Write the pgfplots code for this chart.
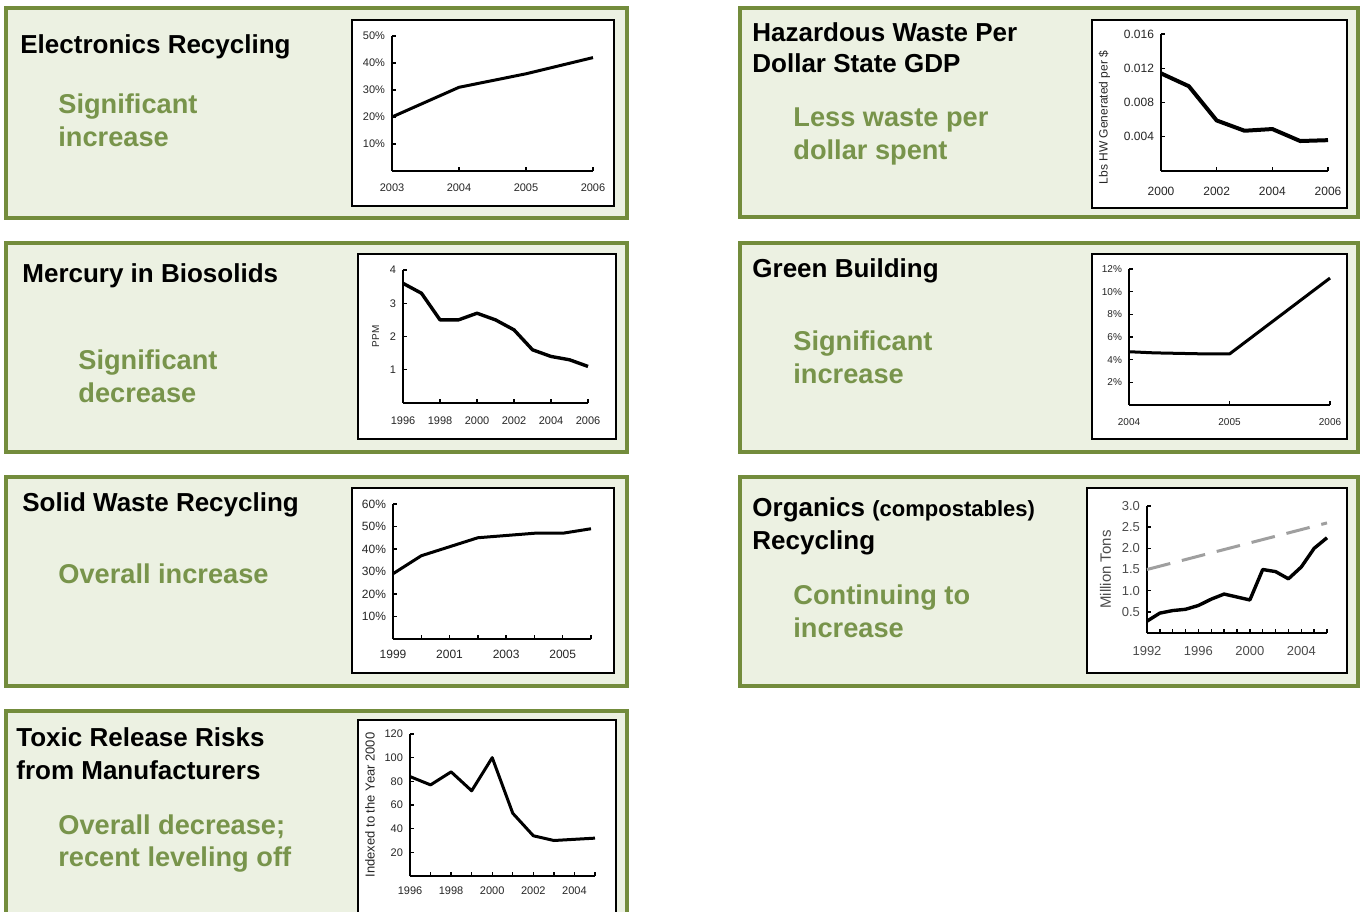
\documentclass[border=0pt]{standalone}
\usepackage{pgfplots}
\pgfplotsset{compat=1.18}
\usepackage{fontspec}
\setmainfont{Liberation Sans}

\definecolor{frame}{RGB}{115,140,60}
\definecolor{panel}{RGB}{236,241,226}
\definecolor{note}{RGB}{120,148,75}

\newcommand{\ttl}{\fontsize{13}{15}\selectfont\bfseries}
\newcommand{\nte}{\fontsize{13.6}{16}\selectfont\bfseries\color{note}}

\pgfplotsset{
  mini/.style={
    scale only axis, anchor=south west, clip=false,
    axis lines=left, axis line style={-, line width=0.9pt},
    tick align=inside, major tick length=2pt, minor tick length=2pt,
    tick style={black, line width=0.7pt},
    /pgf/number format/1000 sep={},
    /pgf/number format/assume math mode=true,
    tick label style={font=\fontsize{5.5}{6}\selectfont, text=black!85},
    xticklabel style={yshift=-3pt},
    ylabel style={font=\fontsize{5}{6}\selectfont, text=black!85},
  },
  line/.style={black, line width=1.5pt, line join=round, mark=none},
}

\begin{document}
\begin{tikzpicture}
\path[use as bounding box] (0,0) rectangle (680pt,455.5pt);

% panels, in pixel coordinates of the reference
\begin{scope}[x=0.5pt, y=-0.5pt, yshift=455.5pt]
  \foreach \a/\b/\c/\d in {6/8/627/218, 740/8/1358/217, 6/243/627/452,
      740/243/1358/452, 6/477/627/686, 740/477/1358/686, 6/711/627/930}
    \draw[frame, line width=2pt, fill=panel] (\a,\b) rectangle (\c,\d);
  \foreach \a/\b/\c/\d in {352/20/614/206, 1092/20/1347/208, 358/254/616/439,
      1092/254/1347/439, 352/488/614/673, 1087/488/1347/673, 358/720/616/935}
    \draw[black, line width=1.2pt, fill=white] (\a,\b) rectangle (\c,\d);

  \tikzset{every node/.style={anchor=base west, inner sep=0pt}}
  \node at (20,54) {\ttl Electronics Recycling};
  \node at (58,114) {\nte Significant};
  \node at (58,147) {\nte increase};

  \node at (752,42) {\ttl Hazardous Waste Per};
  \node at (752,73) {\ttl Dollar State GDP};
  \node at (793,127) {\nte Less waste per};
  \node at (793,160) {\nte dollar spent};

  \node at (22,283) {\ttl Mercury in Biosolids};
  \node at (78,370) {\nte Significant};
  \node at (78,403) {\nte decrease};

  \node at (752,278) {\ttl Green Building};
  \node at (793,351) {\nte Significant};
  \node at (793,384) {\nte increase};

  \node at (22,512) {\ttl Solid Waste Recycling};
  \node at (58,584) {\nte Overall increase};

  \node at (752,517) {\ttl Organics {\fontsize{11}{13}\selectfont(compostables)}};
  \node at (752,550) {\ttl Recycling};
  \node at (793,605) {\nte Continuing to};
  \node at (793,638) {\nte increase};

  \node at (16,746) {\ttl Toxic Release Risks};
  \node at (16,779) {\ttl from Manufacturers};
  \node at (58,834) {\nte Overall decrease;};
  \node at (58,866) {\nte recent leveling off};
\end{scope}

% Electronics Recycling
\begin{axis}[mini, at={(196pt,370pt)}, width=100.5pt, height=67.5pt,
  xmin=2003, xmax=2006, ymin=0, ymax=50,
  xtick={2003,2004,2005,2006}, ytick={10,20,30,40,50},
  yticklabels={10\%,20\%,30\%,40\%,50\%}]
\addplot[line] coordinates {(2003,20) (2004,31) (2005,36) (2006,42)};
\end{axis}

% Hazardous waste per dollar
\begin{axis}[mini, at={(580.5pt,370pt)}, width=83.5pt, height=68.5pt,
  xmin=2000, xmax=2006, ymin=0, ymax=0.016,
  xtick={2000,2002,2004,2006}, ytick={0.004,0.008,0.012,0.016},
  yticklabels={0.004,0.008,0.012,0.016}, scaled y ticks=false,
  tick label style={font=\fontsize{6}{7}\selectfont},
  xticklabel style={yshift=-1.5pt},
  ylabel style={font=\fontsize{6}{7}\selectfont, at={(ticklabel cs:0.39)}},
  ylabel={Lbs HW Generated per \$}]
\addplot[line, line width=2pt] coordinates {
  (2000,0.0114) (2001,0.0099) (2002,0.0059) (2003,0.0047)
  (2004,0.0049) (2005,0.0035) (2006,0.0036)};
\end{axis}

% Mercury in biosolids
\begin{axis}[mini, at={(201.5pt,254pt)}, width=92.5pt, height=66.5pt,
  xmin=1996, xmax=2006, ymin=0, ymax=4,
  xtick={1996,1998,...,2006}, ytick={1,2,3,4},
  xticklabel style={yshift=-0.5pt},
  ylabel shift=-1.5pt, ylabel={PPM}]
\addplot[line, line width=1.7pt] coordinates {
  (1996,3.6) (1997,3.3) (1998,2.5) (1999,2.5) (2000,2.7) (2001,2.5)
  (2002,2.2) (2003,1.6) (2004,1.4) (2005,1.3) (2006,1.1)};
\end{axis}

% Green building
\begin{axis}[mini, at={(564.5pt,253pt)}, width=100.5pt, height=68pt,
  xmin=2004, xmax=2006, ymin=0, ymax=12,
  xtick={2004,2005,2006}, ytick={2,4,...,12},
  yticklabels={2\%,4\%,6\%,8\%,10\%,12\%},
  tick label style={font=\fontsize{5}{6}\selectfont}]
\addplot[line] coordinates {(2004,4.7) (2004.25,4.6) (2004.8,4.5) (2005,4.5) (2006,11.2)};
\end{axis}

% Solid waste recycling
\begin{axis}[mini, at={(196.5pt,136pt)}, width=99pt, height=67.5pt,
  xmin=1999, xmax=2006, ymin=0, ymax=60,
  xtick={1999,2001,2003,2005}, minor xtick={2000,2002,2004,2006},
  ytick={10,20,...,60},
  yticklabels={10\%,20\%,30\%,40\%,50\%,60\%},
  tick label style={font=\fontsize{6}{7}\selectfont},
  xticklabel style={yshift=1pt}]
\addplot[line] coordinates {(1999,29) (2000,37) (2001,41) (2002,45) (2003,46)
  (2004,47) (2005,47) (2006,49)};
\end{axis}

% Organics recycling
\begin{axis}[mini, at={(573.5pt,139pt)}, width=90pt, height=63.5pt,
  xmin=1992, xmax=2006, ymin=0, ymax=3,
  xtick={1992,1996,2000,2004}, minor xtick={1993,...,2006},
  ytick={0.5,1,...,3}, yticklabels={0.5,1.0,1.5,2.0,2.5,3.0},
  tick label style={font=\fontsize{6.5}{7.5}\selectfont, text=black!70},
  ylabel style={font=\fontsize{7.5}{8.5}\selectfont, text=black!70},
  ylabel shift=-1.5pt,
  ylabel={Million Tons}]
\addplot[gray!75, line width=1.5pt, dash pattern=on 12pt off 6pt]
  coordinates {(1992,1.5) (2006,2.6)};
\addplot[line, line width=1.7pt] coordinates {
  (1992,0.28) (1993,0.47) (1994,0.53) (1995,0.56) (1996,0.65) (1997,0.8)
  (1998,0.92) (1999,0.85) (2000,0.78) (2001,1.5) (2002,1.45) (2003,1.28)
  (2004,1.56) (2005,2.0) (2006,2.25)};
\end{axis}

% Toxic release risks
\begin{axis}[mini, at={(205pt,17.5pt)}, width=92.5pt, height=71pt,
  xmin=1996, xmax=2005, ymin=0, ymax=120,
  xtick={1996,1998,...,2004}, minor xtick={1997,1999,...,2005},
  ytick={20,40,...,120},
  xticklabel style={yshift=1pt},
  ylabel style={font=\fontsize{6.5}{7.5}\selectfont},
  ylabel shift=-2pt,
  ylabel={Indexed to the Year 2000}]
\addplot[line] coordinates {(1996,84) (1997,77) (1998,88) (1999,72) (2000,100)
  (2001,53) (2002,34) (2003,30) (2004,31) (2005,32)};
\end{axis}
\end{tikzpicture}
\end{document}
